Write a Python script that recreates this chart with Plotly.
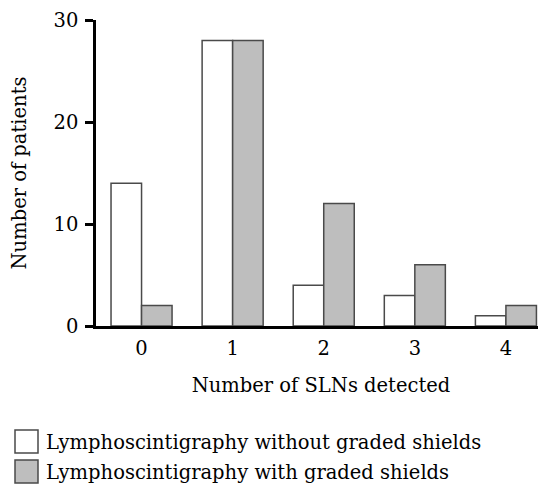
import plotly.graph_objects as go

categories = ["0", "1", "2", "3", "4"]
without_shields = [14, 28, 4, 3, 1]
with_shields = [2, 28, 12, 6, 2]
series_names = ["Lymphoscintigraphy without graded shields",
                "Lymphoscintigraphy with graded shields"]
series_colors = ["#ffffff", "#bebebe"]
y_ticks = [0, 10, 20, 30]

FONT = "DejaVu Serif"
FS = 19.5
OFF = 8  # page body margin
L, T, B = 96 - OFF, 20 - OFF, 160
W, H = 546 - OFF, 486 - OFF
PW, PH = W - L, H - T - B

def px_x(x):
    return (x - OFF - L) / PW

def px_y(y):
    return (H - B - (y - OFF)) / PH

fig = go.Figure()
for vals, name, col in zip([without_shields, with_shields], series_names, series_colors):
    fig.add_trace(go.Bar(x=categories, y=vals, name=name,
                         marker=dict(color=col, line=dict(color="#4a4a4a", width=1.5)),
                         showlegend=False))

fig.update_layout(
    width=W, height=H,
    margin=dict(l=L, r=0, t=T, b=B),
    paper_bgcolor="white", plot_bgcolor="white",
    barmode="group", bargap=0.33, bargroupgap=0,
    font=dict(family=FONT, size=FS, color="black"),
    xaxis=dict(type="category", range=[-0.5, 4.44], showline=True, linecolor="black", linewidth=2.5,
               ticks="", showgrid=False, zeroline=False, tickfont=dict(size=FS), ticklabelstandoff=3,
               title=dict(text="Number of SLNs detected", standoff=20, font=dict(size=FS))),
    yaxis=dict(range=[0, 30], tickvals=y_ticks, showline=True, linecolor="black", linewidth=2.5,
               ticks="outside", ticklen=8, tickwidth=2.5, tickcolor="black", showgrid=False, zeroline=False,
               tickfont=dict(size=FS), ticklabelstandoff=3,
               title=dict(text="Number of patients", standoff=25, font=dict(size=FS))),
)

# legend drawn as boxes + text
for i, (name, col) in enumerate(zip(series_names, series_colors)):
    y0 = [430, 460][i]
    fig.add_shape(type="rect", xref="paper", yref="paper",
                  x0=px_x(15), x1=px_x(38), y0=px_y(y0 + 23), y1=px_y(y0),
                  fillcolor=col, line=dict(color="#4a4a4a", width=1.5))
    fig.add_annotation(text=name, xref="paper", yref="paper", x=px_x(44),
                       y=px_y(y0 + 12), xanchor="left", yanchor="middle", showarrow=False,
                       font=dict(size=FS, family=FONT))

fig.write_html("out.html")
